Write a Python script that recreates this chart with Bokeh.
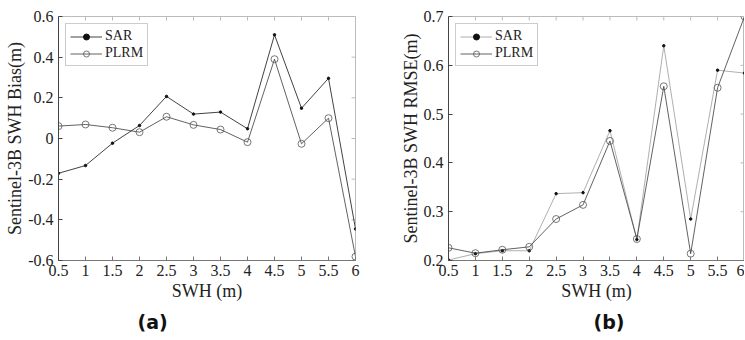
import math
from bokeh.plotting import figure
from bokeh.models import Range1d, FixedTicker, Title
from bokeh.layouts import row
from bokeh.embed import file_html
from bokeh.resources import INLINE

# ---- data ----
swh = [0.5, 1.0, 1.5, 2.0, 2.5, 3.0, 3.5, 4.0, 4.5, 5.0, 5.5, 6.0]
bias_sar = [-0.171, -0.133, -0.023, 0.064, 0.207, 0.120, 0.130, 0.048, 0.510, 0.149, 0.296, -0.445]
bias_plrm = [0.061, 0.069, 0.053, 0.031, 0.107, 0.067, 0.044, -0.018, 0.390, -0.026, 0.100, -0.581]
rmse_sar = [0.201, 0.214, 0.220, 0.220, 0.337, 0.339, 0.466, 0.243, 0.640, 0.285, 0.590, 0.584]
rmse_plrm = [0.226, 0.215, 0.222, 0.228, 0.285, 0.314, 0.445, 0.244, 0.557, 0.214, 0.554, 0.700]

x_ticks = [0.5, 1.0, 1.5, 2.0, 2.5, 3.0, 3.5, 4.0, 4.5, 5.0, 5.5, 6.0]
x_tick_labels = ["0.5", "1", "1.5", "2", "2.5", "3", "3.5", "4", "4.5", "5", "5.5", "6"]
bias_ticks = [-0.6, -0.4, -0.2, 0.0, 0.2, 0.4, 0.6]
bias_tick_labels = ["-0.6", "-0.4", "-0.2", "0", "0.2", "0.4", "0.6"]
rmse_ticks = [0.2, 0.3, 0.4, 0.5, 0.6, 0.7]
rmse_tick_labels = ["0.2", "0.3", "0.4", "0.5", "0.6", "0.7"]

x_lim = (0.5, 6.0)
bias_lim = (-0.6, 0.6)
rmse_lim = (0.2, 0.7)

SERIF = "Liberation Serif"
TXT = "#222222"
BOX = "#bbbbbb"


def style_axis(ax, ticks, labels, color):
    ax.ticker = FixedTicker(ticks=ticks)
    ax.major_label_overrides = {t: l for t, l in zip(ticks, labels)}
    ax.major_tick_in = 4
    ax.major_tick_out = 0
    ax.minor_tick_in = 0
    ax.minor_tick_out = 0
    ax.axis_line_color = color
    ax.major_tick_line_color = color
    ax.major_label_text_font = SERIF
    ax.major_label_text_font_size = "16px"
    ax.major_label_text_color = TXT
    ax.axis_label_text_font = SERIF
    ax.axis_label_text_font_size = "18px"
    ax.axis_label_text_font_style = "normal"
    ax.axis_label_text_color = TXT


def make_fig(width, left, right, ylim, yticks, ylabels, ylabel_text, tag, tag_offset):
    p = figure(width=width, height=340, x_range=Range1d(*x_lim), y_range=Range1d(*ylim),
               output_backend="svg", toolbar_location=None,
               min_border_left=left, min_border_right=right,
               min_border_top=16, min_border_bottom=80)
    p.grid.visible = False
    p.outline_line_color = BOX
    p.outline_line_width = 1
    p.background_fill_color = "white"
    p.border_fill_color = "white"
    style_axis(p.xaxis[0], x_ticks, x_tick_labels, "#777777")
    style_axis(p.yaxis[0], yticks, ylabels, "#444444")
    p.xaxis[0].axis_label = "SWH (m)"
    p.xaxis[0].major_label_standoff = 4
    p.xaxis[0].axis_label_standoff = 2
    p.yaxis[0].axis_label = ylabel_text
    p.yaxis[0].major_label_standoff = 5
    p.yaxis[0].axis_label_standoff = 0
    # mirrored inward ticks on the top and right edges (half of each dash is clipped)
    p.scatter(x_ticks, [ylim[1]] * len(x_ticks), marker="dash", angle=math.pi / 2,
              size=8, line_color=BOX, line_width=1)
    p.scatter([x_lim[1]] * len(yticks), yticks, marker="dash", angle=0,
              size=8, line_color=BOX, line_width=1)
    p.add_layout(Title(text=tag, align="left", offset=tag_offset, standoff=11,
                       text_font="DejaVu Sans", text_font_style="bold",
                       text_font_size="19px", text_color="#111111"), "below")
    return p


def style_legend(p):
    leg = p.legend[0]
    leg.location = "top_left"
    leg.margin = 7
    leg.padding = 4
    leg.spacing = 1
    leg.glyph_width = 32
    leg.glyph_height = 15
    leg.label_height = 15
    leg.label_standoff = 3
    leg.label_text_font = SERIF
    leg.label_text_font_size = "14px"
    leg.label_text_color = TXT
    leg.border_line_color = "#999999"
    leg.background_fill_color = "white"
    leg.background_fill_alpha = 1


# ---- (a) bias ----
pa = make_fig(365, 58, 10, bias_lim, bias_ticks, bias_tick_labels,
              "Sentinel-3B SWH Bias(m)", "(a)", 79)
pa.line(swh, bias_sar, line_color="#111111", line_width=0.8, legend_label="SAR")
pa.scatter(swh, bias_sar, size=2.5, color="#111111", legend_label="SAR")
pa.line(swh, bias_plrm, line_color="#3a3a3a", line_width=0.8, legend_label="PLRM")
pa.scatter(swh, bias_plrm, size=7, fill_color=None, line_color="#555555", line_width=0.8,
           legend_label="PLRM")
style_legend(pa)

# ---- (b) rmse ----
pb = make_fig(379, 83, 0, rmse_lim, rmse_ticks, rmse_tick_labels,
              "Sentinel-3B SWH RMSE(m)", "(b)", 145)
pb.line(swh, rmse_sar, line_color="#9a9a9a", line_width=0.8, legend_label="SAR")
pb.scatter(swh, rmse_sar, size=2.5, color="#111111", legend_label="SAR")
pb.line(swh, rmse_plrm, line_color="#3a3a3a", line_width=0.8, legend_label="PLRM")
pb.scatter(swh, rmse_plrm, size=7, fill_color=None, line_color="#555555", line_width=0.8,
           legend_label="PLRM")
style_legend(pb)

layout = row(pa, pb)
open("out.html", "w").write(file_html(layout, INLINE))
